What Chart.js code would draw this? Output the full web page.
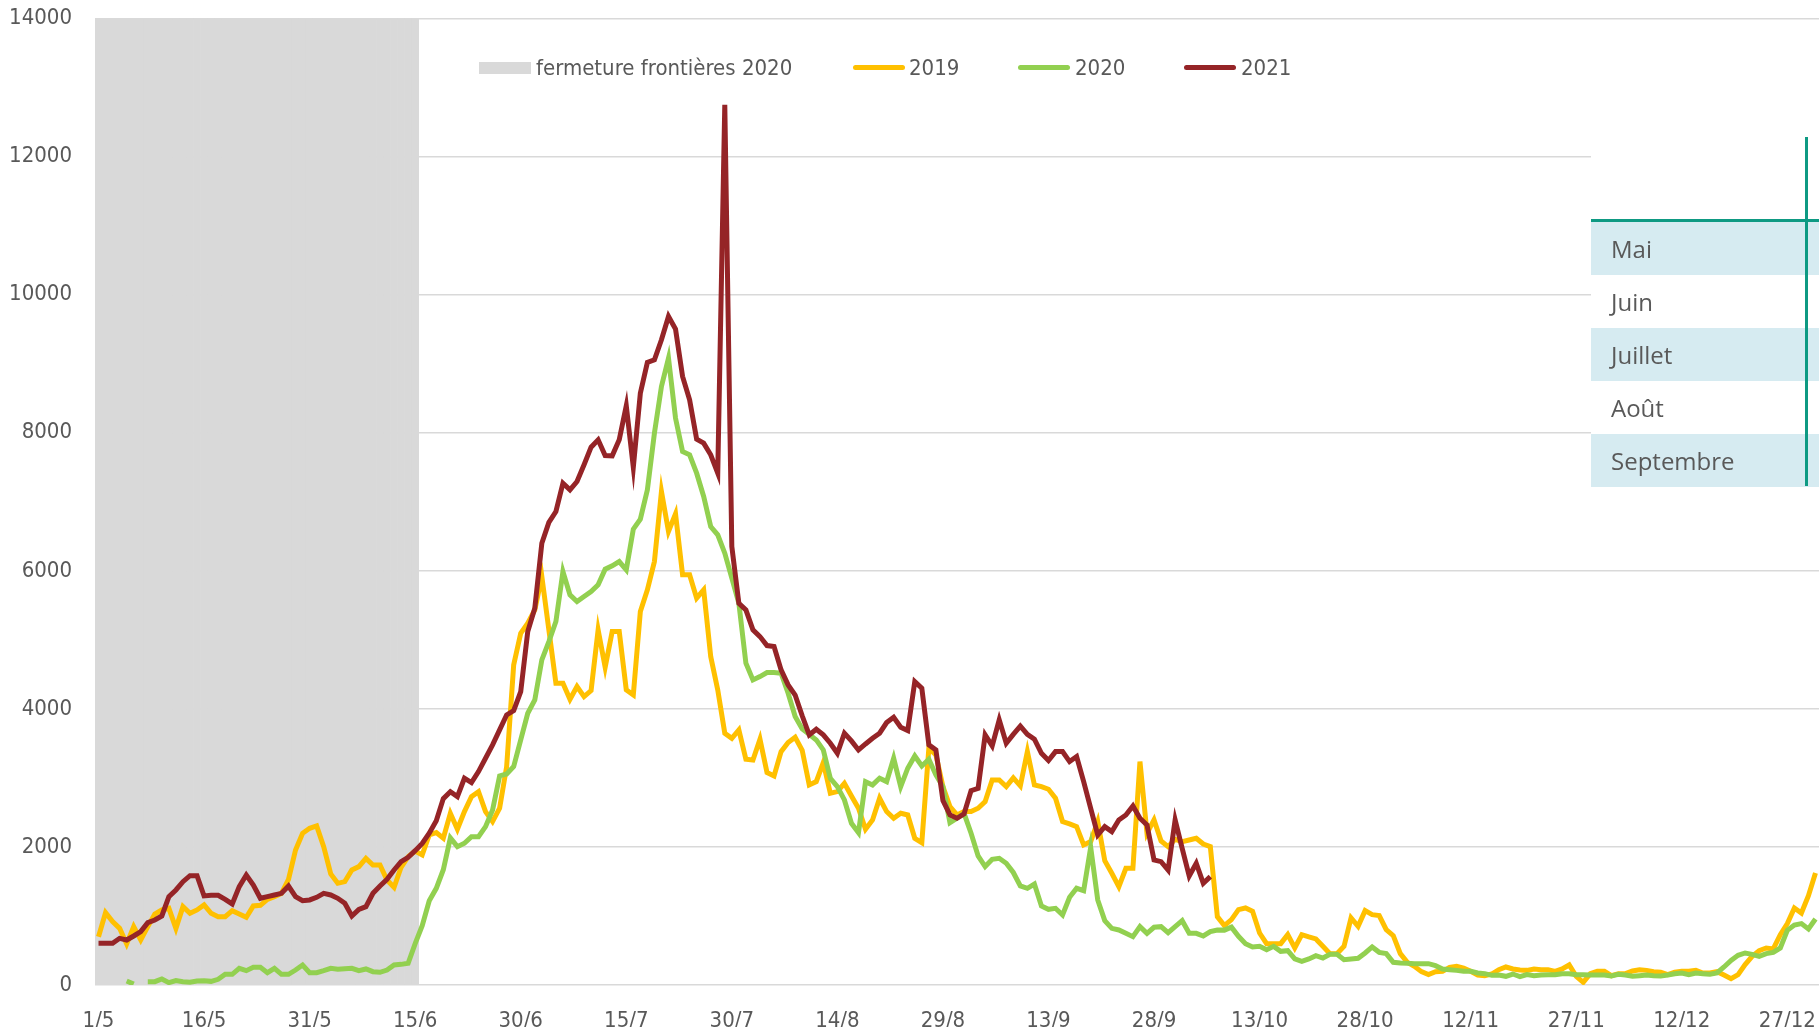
<!DOCTYPE html>
<html>
<head>
<meta charset="utf-8">
<script src="https://cdn.jsdelivr.net/npm/chart.js@4.4.1/dist/chart.umd.min.js"></script>
<style>
  html, body { margin: 0; padding: 0; background: #fff; overflow: hidden; }
  #wrap { position: relative; width: 1819px; height: 1027px; }
  #chart { position: absolute; left: 0; top: 0; }
  .lg { position: absolute; font-family: 'Liberation Sans Narrow', 'DejaVu Sans Condensed', sans-serif; font-size: 22px; color: #595959; line-height: 24px; white-space: nowrap; }
  .sw { position: absolute; }
  #table { position: absolute; left: 1591px; top: 137px; width: 228px; height: 349px; background: #fff; }
  .row { position: absolute; left: 0; width: 228px; height: 53px; font-family: 'Open Sans', sans-serif; font-size: 24px; color: #595959; line-height: 53px; text-indent: 20px; }
  .blue { background: #D6EBF1; }
</style>
</head>
<body>
<div id="wrap">
  <canvas id="chart" width="1819" height="1027"></canvas>

  <!-- legende -->
  <div class="sw" style="left:479px;top:62px;width:52px;height:12px;background:#D9D9D9"></div>
  <div class="lg" style="left:536px;top:56px">fermeture frontières 2020</div>
  <div class="sw" style="left:853px;top:65px;width:52px;height:5px;border-radius:3px;background:#FFC000"></div>
  <div class="lg" style="left:909px;top:56px">2019</div>
  <div class="sw" style="left:1018px;top:65px;width:52px;height:5px;border-radius:3px;background:#92D050"></div>
  <div class="lg" style="left:1075px;top:56px">2020</div>
  <div class="sw" style="left:1184px;top:65px;width:52px;height:5px;border-radius:3px;background:#952427"></div>
  <div class="lg" style="left:1241px;top:56px">2021</div>

  <!-- tableau des mois colle par-dessus -->
  <div id="table">
    <div class="row blue" style="top:85px">Mai</div>
    <div class="row" style="top:138px">Juin</div>
    <div class="row blue" style="top:191px">Juillet</div>
    <div class="row" style="top:244px">Août</div>
    <div class="row blue" style="top:297px">Septembre</div>
    <div style="position:absolute;left:0;top:82px;width:228px;height:3px;background:#0E9A83"></div>
    <div style="position:absolute;left:214px;top:0;width:2.5px;height:349px;background:#0E9A83"></div>
  </div>
</div>

<script>
// Jours du 1/5 au 31/12
const moisDebut = 5;
const joursParMois = [31, 30, 31, 31, 30, 31, 30, 31]; // mai -> decembre
const dates = [];
joursParMois.forEach((n, m) => {
    for (let d = 1; d <= n; d++) dates.push(d + '/' + (moisDebut + m));
});

// Fermeture des frontieres 2020 : jusqu'au 15/6
const finFermeture = dates.indexOf('15/6');
const fermeture = dates.map((d, i) => i <= finFermeture ? 14000 : null);

const serie2019 = [
    700, 1048, 918, 821, 594, 845, 652, 845, 1029, 1087,
    1111, 821, 1135, 1038, 1087, 1159, 1038, 990, 990, 1077,
    1029, 980, 1145, 1154, 1241, 1280, 1328, 1531, 1956, 2198,
    2270, 2304, 2004, 1608, 1473, 1497, 1666, 1715, 1835, 1739,
    1739, 1521, 1415, 1705, 1860, 1940, 1884, 2174, 2207, 2125,
    2487, 2256, 2512, 2729, 2801, 2512, 2367, 2560, 3164, 4637,
    5096, 5241, 5434, 5917, 5144, 4371, 4371, 4139, 4323, 4178,
    4265, 5144, 4603, 5120, 5120, 4275, 4202, 5410, 5724, 6134,
    7148, 6569, 6825, 5941, 5941, 5603, 5724, 4758, 4275, 3647,
    3574, 3695, 3270, 3260, 3560, 3077, 3028, 3381, 3512, 3589,
    3400, 2898, 2946, 3222, 2777, 2801, 2922, 2739, 2560, 2256,
    2391, 2705, 2512, 2415, 2487, 2463, 2125, 2062, 3429, 3333,
    2874, 2584, 2463, 2512, 2512, 2560, 2657, 2970, 2970, 2874,
    3000, 2884, 3381, 2898, 2874, 2835, 2705, 2367, 2333, 2294,
    2029, 2077, 2367, 1802, 1618, 1425, 1690, 1690, 3236, 2198,
    2391, 2087, 2004, 2111, 2077, 2101, 2125, 2043, 2004, 990,
    860, 947, 1092, 1116, 1067, 753, 599, 599, 599, 729,
    536, 729, 696, 667, 560, 454, 454, 560, 971, 850,
    1077, 1019, 1005, 802, 715, 454, 328, 270, 193, 150,
    193, 198, 256, 270, 246, 198, 145, 135, 159, 222,
    261, 232, 217, 212, 232, 222, 222, 198, 232, 290,
    126, 39, 164, 198, 198, 135, 164, 164, 203, 222,
    212, 193, 184, 150, 184, 198, 198, 212, 174, 174,
    193, 145, 92, 150, 295, 415, 497, 536, 522, 729,
    889, 1116, 1043, 1294, 1623
];

const serie2020 = [
    null, null, null, null, 58, 14, null, 48, 48, 87,
    34, 63, 48, 39, 58, 63, 53, 82, 155, 155,
    241, 208, 256, 256, 179, 241, 155, 155, 217, 290,
    179, 179, 208, 241, 227, 237, 241, 208, 232, 193,
    184, 217, 290, 299, 314, 600, 860, 1220, 1400, 1670,
    2130, 2004, 2053, 2149, 2149, 2294, 2536, 3028, 3057, 3164,
    3550, 3936, 4130, 4709, 4975, 5265, 5989, 5651, 5555, 5627,
    5699, 5796, 6023, 6071, 6134, 6013, 6603, 6748, 7173, 7994,
    8670, 9080, 8211, 7728, 7680, 7414, 7076, 6641, 6520, 6255,
    5893, 5530, 4661, 4419, 4468, 4526, 4526, 4516, 4226, 3888,
    3710, 3630, 3550, 3405, 2995, 2874, 2681, 2343, 2207, 2946,
    2898, 2995, 2946, 3284, 2874, 3140, 3318, 3173, 3270, 3043,
    2874, 2352, 2415, 2487, 2198, 1869, 1715, 1821, 1835, 1763,
    1630, 1435, 1401, 1463, 1145, 1096, 1111, 1014, 1270, 1401,
    1367, 1995, 1232, 932, 821, 797, 749, 700, 845, 749,
    836, 845, 758, 845, 932, 749, 749, 710, 773, 797,
    795, 838, 705, 599, 551, 560, 512, 560, 488, 497,
    377, 343, 377, 425, 391, 444, 444, 367, 377, 386,
    464, 551, 473, 454, 328, 319, 314, 309, 309, 309,
    280, 232, 222, 212, 198, 198, 174, 164, 140, 145,
    126, 159, 121, 150, 135, 145, 150, 150, 164, 164,
    150, 150, 145, 145, 145, 130, 155, 145, 126, 135,
    145, 135, 130, 145, 164, 174, 150, 174, 164, 155,
    174, 261, 357, 430, 464, 444, 415, 454, 473, 536,
    792, 869, 889, 811, 956
];

const serie2021 = [
    604, 604, 604, 676, 652, 710, 773, 903, 942, 1000,
    1280, 1377, 1497, 1584, 1584, 1290, 1300, 1300, 1241, 1174,
    1425, 1594, 1449, 1256, 1280, 1304, 1328, 1434, 1280, 1222,
    1232, 1270, 1328, 1304, 1256, 1183, 1000, 1096, 1135, 1328,
    1434, 1531, 1666, 1787, 1850, 1946, 2050, 2200, 2380, 2700,
    2801, 2729, 2995, 2932, 3091, 3284, 3478, 3695, 3912, 3975,
    4250, 5120, 5458, 6400, 6700, 6858, 7269, 7173, 7293, 7535,
    7791, 7897, 7670, 7665, 7897, 8390, 7501, 8573, 9018, 9056,
    9346, 9684, 9501, 8815, 8477, 7907, 7849, 7680, 7414, 12751,
    6351, 5530, 5434, 5144, 5047, 4917, 4902, 4564, 4347, 4200,
    3900, 3622, 3705, 3623, 3502, 3357, 3647, 3536, 3405, 3492,
    3574, 3647, 3801, 3878, 3734, 3685, 4395, 4299, 3478, 3405,
    2671, 2463, 2415, 2478, 2816, 2850, 3623, 3463, 3840, 3502,
    3630, 3750, 3630, 3560, 3357, 3251, 3381, 3381, 3236, 3309,
    2946, 2560, 2174, 2294, 2222, 2391, 2463, 2594, 2415, 2318,
    1811, 1787, 1666, 2391, 1980, 1579, 1763, 1473, 1570
];

const yTicks = [0, 2000, 4000, 6000, 8000, 10000, 12000, 14000];

const axisFont = { family: "'Liberation Sans Narrow', 'DejaVu Sans Condensed', sans-serif", size: 22 };

const ctx = document.getElementById('chart').getContext('2d');
new Chart(ctx, {
    type: 'line',
    data: {
        labels: dates,
        datasets: [
            { label: '2021', data: serie2021, borderColor: '#952427', borderWidth: 5, pointRadius: 0, tension: 0, order: 1 },
            { label: '2020', data: serie2020, borderColor: '#92D050', borderWidth: 5, pointRadius: 0, tension: 0, spanGaps: false, order: 2 },
            { label: '2019', data: serie2019, borderColor: '#FFC000', borderWidth: 5, pointRadius: 0, tension: 0, order: 3 },
            {
                type: 'bar',
                label: 'fermeture frontières 2020',
                data: fermeture,
                backgroundColor: '#D9D9D9',
                barPercentage: 1,
                categoryPercentage: 1,
                order: 4
            }
        ]
    },
    options: {
        responsive: false,
        animation: false,
        layout: { padding: { top: 18.5, right: 0, bottom: 0, left: 0 } },
        plugins: {
            legend: { display: false },
            tooltip: { enabled: false }
        },
        scales: {
            x: {
                offset: true,
                grid: { display: false },
                border: { display: false },
                ticks: {
                    autoSkip: false,
                    maxRotation: 0,
                    padding: 0,
                    color: '#595959',
                    font: Object.assign({ lineHeight: 2.6 }, axisFont),
                    callback: (v, i) => (i % 15 === 0 ? dates[i] : '')
                },
                afterFit: s => { s.height = 42; }
            },
            y: {
                min: yTicks[0],
                max: yTicks[yTicks.length - 1],
                afterBuildTicks: s => { s.ticks = yTicks.map(v => ({ value: v })); },
                ticks: { padding: 0, color: '#595959', font: axisFont, callback: v => String(v) },
                grid: { color: '#D9D9D9', lineWidth: 1.5, drawTicks: true, tickLength: 23, tickColor: 'rgba(0,0,0,0)' },
                border: { display: false },
                afterFit: s => { s.width = 95; }
            }
        }
    }
});
</script>
</body>
</html>
